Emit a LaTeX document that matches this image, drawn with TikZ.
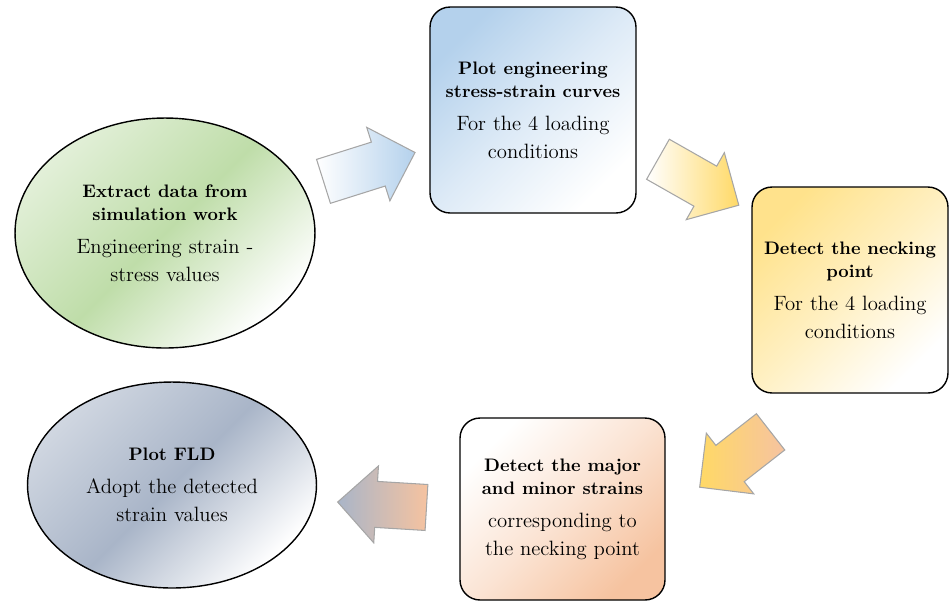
\documentclass[tikz,border=0pt]{standalone}
\usetikzlibrary{shapes}
\usetikzlibrary{shapes.arrows}

\definecolor{fillGreen}{HTML}{BFDDA9}
\definecolor{fillBlue}{HTML}{B4D1EC}
\definecolor{fillYellow}{HTML}{FFD966}
\definecolor{fillPeach}{HTML}{F6C3A0}
\definecolor{fillGray}{HTML}{A9B5C8}
\definecolor{arrowLine}{HTML}{A6A6A6}

\newcommand{\headline}[1]{{\fontsize{10.3}{13.4}\selectfont\bfseries #1\par}\vspace{3pt}}

\begin{document}
\begin{tikzpicture}[x = 0.02cm, y = -0.02cm]
	\tikzstyle{shapeStyle} = [draw, line width = 0.8pt, align = center, inner sep = 0pt, text width = 3.7cm, font = \fontsize{11.8}{15.8}\selectfont]
	\tikzstyle{boxStyle} = [shapeStyle, shape = rectangle, rounded corners = 0.4cm]
	\tikzstyle{ovalStyle} = [shapeStyle, shape = ellipse]
	\tikzstyle{arrowStyle} = [shape = single arrow, draw = arrowLine, line width = 0.6pt, anchor = tail, inner xsep = 0pt, inner ysep = 0.45cm, single arrow head extend = 0.31cm]
	\useasboundingbox (0, 0) rectangle (949, 610);
	\node[ovalStyle, minimum width = 6cm, minimum height = 4.6cm, top color = fillGreen!45, bottom color = white, middle color = fillGreen, shading angle = 45] (extract) at (165, 233) {\headline{Extract data from\\simulation work}Engineering strain -\\stress values};
	\node[boxStyle, minimum width = 4.12cm, minimum height = 4.12cm, top color = fillBlue, bottom color = white, middle color = fillBlue!45, shading angle = 45] (plot) at (533, 110) {\headline{Plot engineering\\stress-strain curves}For the 4 loading\\conditions};
	\node[boxStyle, minimum width = 3.92cm, minimum height = 4.12cm, top color = fillYellow!75, bottom color = white, middle color = fillYellow!40, shading angle = 45] (necking) at (850, 290) {\headline{Detect the necking\\point}For the 4 loading\\conditions};
	\node[boxStyle, minimum width = 4.1cm, minimum height = 3.64cm, top color = white, bottom color = fillPeach, middle color = fillPeach!45, shading angle = 45] (strains) at (562.5, 509) {\headline{Detect the major\\and minor strains}corresponding to\\the necking point};
	\node[ovalStyle, minimum width = 5.78cm, minimum height = 4.12cm, top color = fillGray!55, bottom color = white, middle color = fillGray, shading angle = 45] (fld) at (172, 485) {\headline{Plot FLD}Adopt the detected\\strain values};
	\node[arrowStyle, rotate = 17.5, minimum height = 1.92cm, left color = white, right color = fillBlue] (arrA) at (323, 181.5) {};
	\node[arrowStyle, rotate = -29.6, minimum height = 1.86cm, left color = white, right color = fillYellow] (arrB) at (657.5, 159) {};
	\node[arrowStyle, rotate = 218, minimum height = 1.8cm, left color = fillYellow, right color = fillPeach] (arrC) at (771, 431.5) {};
	\node[arrowStyle, rotate = 176.5, minimum height = 1.78cm, left color = fillGray, right color = fillPeach] (arrD) at (427, 507.5) {};
\end{tikzpicture}
\end{document}
